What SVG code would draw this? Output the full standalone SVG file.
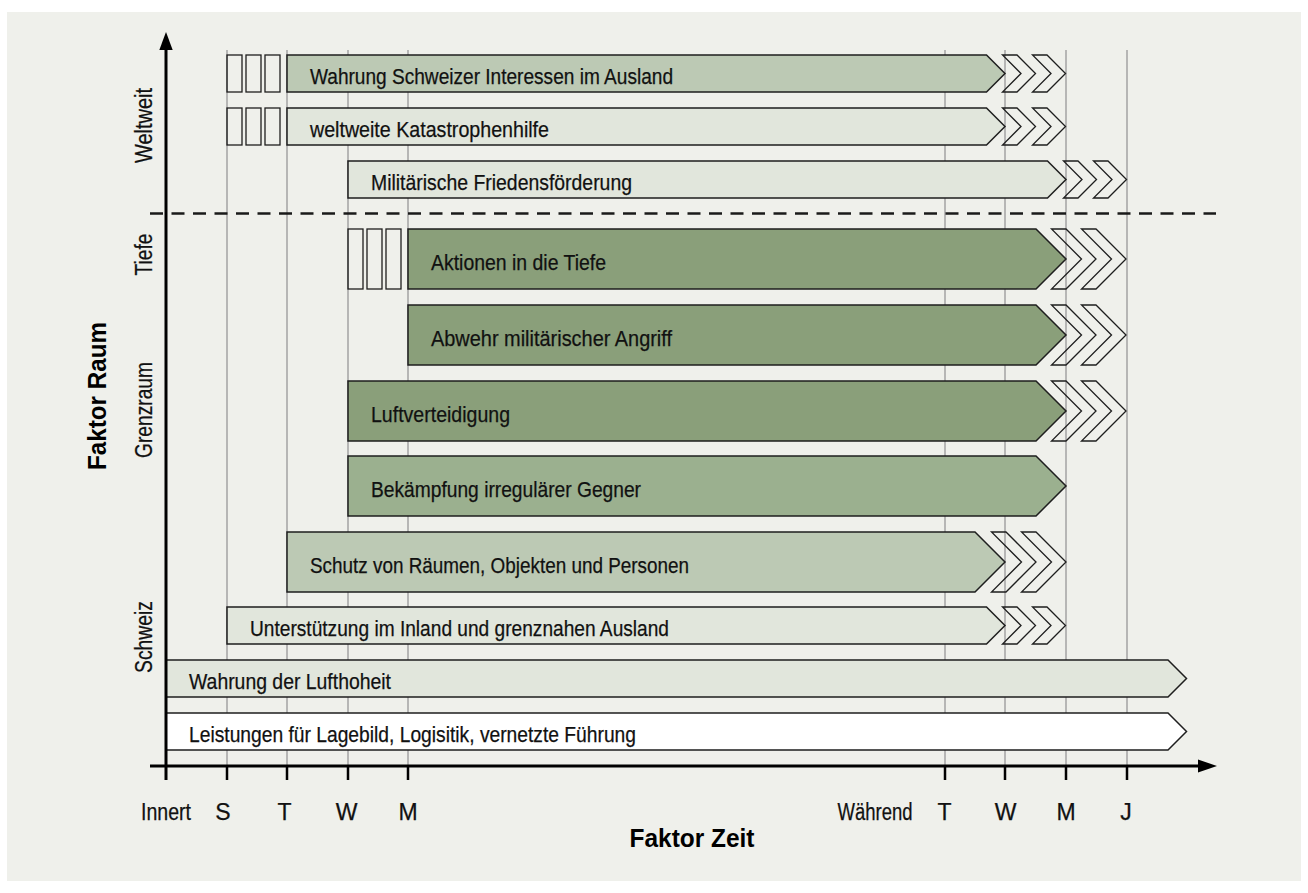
<svg xmlns="http://www.w3.org/2000/svg" width="1308" height="893" viewBox="0 0 1308 893">
<defs>
<style>
.bg{fill:#eff0eb}
.grid{stroke:#a3a3a3;stroke-width:1.5;fill:none}
.bar{stroke:#1e1e1e;stroke-width:1.5}
.light{fill:#e1e6dc}
.mlight{fill:#bcc9b4}
.dark{fill:#8a9f7a}
.mid{fill:#9bb08f}
.white{fill:#ffffff}
.chev{fill:none;stroke:#1e1e1e;stroke-width:1.3;stroke-linejoin:miter}
.box{fill:none;stroke:#1e1e1e;stroke-width:1.3}
.t{font-family:"Liberation Sans",Arial,sans-serif;font-size:22px;fill:#111;stroke:#111;stroke-width:0.25}
.lab{font-family:"Liberation Sans",Arial,sans-serif;font-size:23px;fill:#111;stroke:#111;stroke-width:0.25}
.big{font-family:"Liberation Sans",Arial,sans-serif;font-size:25px;font-weight:bold;fill:#000}
.axis{stroke:#000;stroke-width:3;fill:none}
</style>
</defs>
<rect x="0" y="0" width="1308" height="893" fill="#ffffff"/>
<rect class="bg" x="7" y="12" width="1294" height="869"/>

<g id="grid">
<line class="grid" x1="227" y1="50" x2="227" y2="766"/>
<line class="grid" x1="287" y1="50" x2="287" y2="766"/>
<line class="grid" x1="348" y1="50" x2="348" y2="766"/>
<line class="grid" x1="408" y1="50" x2="408" y2="766"/>
<line class="grid" x1="945" y1="50" x2="945" y2="766"/>
<line class="grid" x1="1005" y1="50" x2="1005" y2="766"/>
<line class="grid" x1="1066" y1="50" x2="1066" y2="766"/>
<line class="grid" x1="1127" y1="50" x2="1127" y2="766"/>
</g>

<g id="row1">
<rect class="box" x="227" y="55" width="15" height="37"/>
<rect class="box" x="246" y="55" width="15" height="37"/>
<rect class="box" x="265" y="55" width="15" height="37"/>
<polygon class="bar mlight" points="287,55 986.5,55 1005,73.5 986.5,92 287,92"/>
<polygon class="chev" points="1002.5,55 1017,55 1035.5,73.5 1017,92 1002.5,92 1021,73.5"/>
<polygon class="chev" points="1032.5,55 1047,55 1065.5,73.5 1047,92 1032.5,92 1051,73.5"/>
<text class="t" x="310" y="83.5" textLength="363" lengthAdjust="spacingAndGlyphs">Wahrung Schweizer Interessen im Ausland</text>
</g>

<g id="row2">
<rect class="box" x="227" y="108" width="15" height="37"/>
<rect class="box" x="246" y="108" width="15" height="37"/>
<rect class="box" x="265" y="108" width="15" height="37"/>
<polygon class="bar light" points="287,108 986.5,108 1005,126.5 986.5,145 287,145"/>
<polygon class="chev" points="1002.5,108 1017,108 1035.5,126.5 1017,145 1002.5,145 1021,126.5"/>
<polygon class="chev" points="1032.5,108 1047,108 1065.5,126.5 1047,145 1032.5,145 1051,126.5"/>
<text class="t" x="310" y="136.5" textLength="239" lengthAdjust="spacingAndGlyphs">weltweite Katastrophenhilfe</text>
</g>

<g id="row3">
<polygon class="bar light" points="348,161 1047.5,161 1066,179.5 1047.5,198 348,198"/>
<polygon class="chev" points="1063.5,161 1078,161 1096.5,179.5 1078,198 1063.5,198 1082,179.5"/>
<polygon class="chev" points="1093.5,161 1108,161 1126.5,179.5 1108,198 1093.5,198 1112,179.5"/>
<text class="t" x="371" y="189.5" textLength="261" lengthAdjust="spacingAndGlyphs">Militärische Friedensförderung</text>
</g>

<g id="divider">
<line x1="150" y1="213.5" x2="1216" y2="213.5" stroke="#1a1a1a" stroke-width="2.5" stroke-dasharray="13,8.5"/>
</g>

<g id="row4">
<rect class="box" x="348" y="229" width="15" height="60"/>
<rect class="box" x="367" y="229" width="15" height="60"/>
<rect class="box" x="386" y="229" width="15" height="60"/>
<polygon class="bar dark" points="408,229 1036,229 1066,259 1036,289 408,289"/>
<polygon class="chev" points="1051.5,229 1066,229 1096,259 1066,289 1051.5,289 1081.5,259"/>
<polygon class="chev" points="1081.5,229 1096,229 1126,259 1096,289 1081.5,289 1111.5,259"/>
<text class="t" x="431" y="269.5" textLength="175" lengthAdjust="spacingAndGlyphs">Aktionen in die Tiefe</text>
</g>

<g id="row5">
<polygon class="bar dark" points="408,305 1036,305 1066,335 1036,365 408,365"/>
<polygon class="chev" points="1051.5,305 1066,305 1096,335 1066,365 1051.5,365 1081.5,335"/>
<polygon class="chev" points="1081.5,305 1096,305 1126,335 1096,365 1081.5,365 1111.5,335"/>
<text class="t" x="431" y="345.5" textLength="241" lengthAdjust="spacingAndGlyphs">Abwehr militärischer Angriff</text>
</g>

<g id="row6">
<polygon class="bar dark" points="348,381 1036,381 1066,411 1036,441 348,441"/>
<polygon class="chev" points="1051.5,381 1066,381 1096,411 1066,441 1051.5,441 1081.5,411"/>
<polygon class="chev" points="1081.5,381 1096,381 1126,411 1096,441 1081.5,441 1111.5,411"/>
<text class="t" x="371" y="421.5" textLength="139" lengthAdjust="spacingAndGlyphs">Luftverteidigung</text>
</g>

<g id="row7">
<polygon class="bar mid" points="348,456 1036,456 1066,486 1036,516 348,516"/>
<text class="t" x="371" y="496.5" textLength="270" lengthAdjust="spacingAndGlyphs">Bekämpfung irregulärer Gegner</text>
</g>

<g id="row8">
<polygon class="bar mlight" points="287,532 975,532 1005,562 975,592 287,592"/>
<polygon class="chev" points="991.5,532 1006,532 1036,562 1006,592 991.5,592 1021.5,562"/>
<polygon class="chev" points="1021.5,532 1036,532 1066,562 1036,592 1021.5,592 1051.5,562"/>
<text class="t" x="310" y="572.5" textLength="379" lengthAdjust="spacingAndGlyphs">Schutz von Räumen, Objekten und Personen</text>
</g>

<g id="row9">
<polygon class="bar light" points="227,607 986.5,607 1005,625.5 986.5,644 227,644"/>
<polygon class="chev" points="1002.5,607 1017,607 1035.5,625.5 1017,644 1002.5,644 1021,625.5"/>
<polygon class="chev" points="1032.5,607 1047,607 1065.5,625.5 1047,644 1032.5,644 1051,625.5"/>
<text class="t" x="250" y="635.5" textLength="419" lengthAdjust="spacingAndGlyphs">Unterstützung im Inland und grenznahen Ausland</text>
</g>

<g id="row10">
<polygon class="bar light" points="166,660 1168,660 1186.5,678.5 1168,697 166,697"/>
<text class="t" x="189" y="688.5" textLength="202" lengthAdjust="spacingAndGlyphs">Wahrung der Lufthoheit</text>
</g>

<g id="row11">
<polygon class="bar white" points="166,713 1168,713 1186.5,731.5 1168,750 166,750"/>
<text class="t" x="189" y="741.5" textLength="447" lengthAdjust="spacingAndGlyphs">Leistungen für Lagebild, Logisitik, vernetzte Führung</text>
</g>

<g id="axes">
<line class="axis" x1="166" y1="780" x2="166" y2="48"/>
<polygon points="166,32 159.3,50 172.7,50" fill="#000"/>
<line class="axis" x1="150" y1="766" x2="1200" y2="766"/>
<polygon points="1217,766 1198,759.5 1198,772.5" fill="#000"/>
<g stroke="#000" stroke-width="2.5">
<line x1="227" y1="766" x2="227" y2="780"/>
<line x1="287" y1="766" x2="287" y2="780"/>
<line x1="348" y1="766" x2="348" y2="780"/>
<line x1="408" y1="766" x2="408" y2="780"/>
<line x1="945" y1="766" x2="945" y2="780"/>
<line x1="1005" y1="766" x2="1005" y2="780"/>
<line x1="1066" y1="766" x2="1066" y2="780"/>
<line x1="1127" y1="766" x2="1127" y2="780"/>
</g>
</g>

<g id="xlabels">
<text class="lab" x="141" y="819.5" textLength="50" lengthAdjust="spacingAndGlyphs">Innert</text>
<text class="lab" x="223" y="819.5" text-anchor="middle">S</text>
<text class="lab" x="284.5" y="819.5" text-anchor="middle">T</text>
<text class="lab" x="346.5" y="819.5" text-anchor="middle">W</text>
<text class="lab" x="408" y="819.5" text-anchor="middle">M</text>
<text class="lab" x="837.5" y="819.5" textLength="75" lengthAdjust="spacingAndGlyphs">Während</text>
<text class="lab" x="944.5" y="819.5" text-anchor="middle">T</text>
<text class="lab" x="1005.5" y="819.5" text-anchor="middle">W</text>
<text class="lab" x="1066" y="819.5" text-anchor="middle">M</text>
<text class="lab" x="1126" y="819.5" text-anchor="middle">J</text>
<text class="big" x="629.5" y="846.5" textLength="125" lengthAdjust="spacingAndGlyphs">Faktor Zeit</text>
</g>

<g id="ylabels">
<text class="lab" transform="translate(152,125.5) rotate(-90)" text-anchor="middle" textLength="75" lengthAdjust="spacingAndGlyphs">Weltweit</text>
<text class="lab" transform="translate(152,254.5) rotate(-90)" text-anchor="middle" textLength="42" lengthAdjust="spacingAndGlyphs">Tiefe</text>
<text class="lab" transform="translate(152,410) rotate(-90)" text-anchor="middle" textLength="96" lengthAdjust="spacingAndGlyphs">Grenzraum</text>
<text class="lab" transform="translate(152,637) rotate(-90)" text-anchor="middle" textLength="72" lengthAdjust="spacingAndGlyphs">Schweiz</text>
<text class="big" transform="translate(106,396) rotate(-90)" text-anchor="middle" textLength="148" lengthAdjust="spacingAndGlyphs">Faktor Raum</text>
</g>
</svg>
